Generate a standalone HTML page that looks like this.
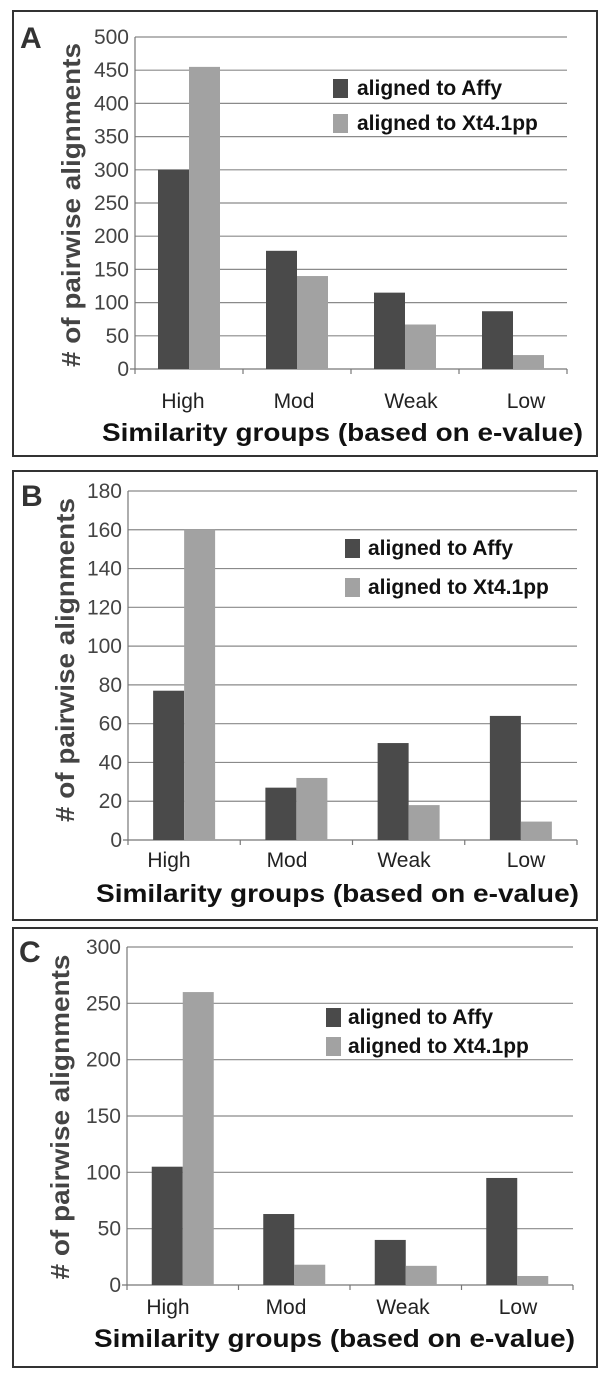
<!DOCTYPE html>
<html><head><meta charset="utf-8"><style>
html,body{margin:0;padding:0;background:#fff;}
svg{display:block;font-family:"Liberation Sans",Arial,sans-serif;}
</style></head><body>
<svg id="fig" width="600" height="1385" viewBox="0 0 600 1385" xmlns="http://www.w3.org/2000/svg"></svg>
<script>
const categories = ["High","Mod","Weak","Low"];
const seriesNames = ["aligned to Affy","aligned to Xt4.1pp"];
const affyA = [300,178,115,87];
const xtA = [455,140,67,21];
const ticksA = [0,50,100,150,200,250,300,350,400,450,500];
const affyB = [77,27,50,64];
const xtB = [160,32,18,9.5];
const ticksB = [0,20,40,60,80,100,120,140,160,180];
const affyC = [105,63,40,95];
const xtC = [260,18,17,8];
const ticksC = [0,50,100,150,200,250,300];

const NS="http://www.w3.org/2000/svg";
const svg=document.getElementById('fig');
function mk(tag,attrs,parent,text){const e=document.createElementNS(NS,tag);for(const k in attrs)e.setAttribute(k,attrs[k]);if(text!==undefined)e.textContent=text;(parent||svg).appendChild(e);return e;}

const panels=[
 {id:'a',label:'A',box:[13,11,584,445],lab:[20,48],x0:135,x1:567,y0:369,y1:37,max:500,ticks:ticksA,s1:affyA,s2:xtA,
  cat:[183,294,411,526],catY:408,xt:[102,583,441],yt:[71,205,324],leg:[333,79,114,357]},
 {id:'b',label:'B',box:[13,471,584,449],lab:[21,506],x0:128,x1:577,y0:840,y1:491,max:180,ticks:ticksB,s1:affyB,s2:xtB,
  cat:[169,287,404,526],catY:867,xt:[96,579,902],yt:[65,660,324],leg:[345,539,578,368]},
 {id:'c',label:'C',box:[13,928,584,439],lab:[19,962],x0:127,x1:573,y0:1285,y1:947,max:300,ticks:ticksC,s1:affyC,s2:xtC,
  cat:[168,286,403,518],catY:1314,xt:[94,575,1347],yt:[60,1117,325],leg:[326,1008,1037,348]}
];

panels.forEach(p=>{
  const g=mk('g',{});
  
  
  const box=mk('rect',{x:p.box[0],y:p.box[1],width:p.box[2],height:p.box[3],fill:'#fff',stroke:'#333','stroke-width':2},g);
  
  
  const L=mk('text',{x:p.lab[0],y:p.lab[1],'font-size':30,'font-weight':'bold',fill:'#333'},g,p.label);
  
  
  const yS=v=>p.y0-(v/p.max)*(p.y0-p.y1);
  const step=(p.x1-p.x0)/categories.length;
  const xS=i=>p.x0+(i+0.5)*step;
  p.ticks.forEach(t=>{
    const y=yS(t);
    if(t>0){const gl=mk('line',{x1:p.x0,x2:p.x1,y1:y,y2:y,stroke:'#8a8a8a','stroke-width':1.2},g);
      
      }
    const tl=mk('text',{x:p.x0-6,y:y+7,'font-size':21,'text-anchor':'end',fill:'#444'},g,String(t));
    
    
  });
  const ya=mk('line',{x1:p.x0,x2:p.x0,y1:p.y1,y2:p.y0,stroke:'#777','stroke-width':1.2},g);
  
  
  const xa=mk('line',{x1:p.x0-5,x2:p.x1,y1:p.y0,y2:p.y0,stroke:'#777','stroke-width':1.2},g);
  
  
  for(let i=0;i<=categories.length;i++){
    const x=p.x0+i*step;
    const tk=mk('line',{x1:x,x2:x,y1:p.y0,y2:p.y0+5,stroke:'#777','stroke-width':1.2},g);
    
    
  }
  const bw=31;
  categories.forEach((c,i)=>{
    const cx=xS(i);
    const b1=mk('rect',{x:cx-bw,y:yS(p.s1[i]),width:bw,height:p.y0-yS(p.s1[i]),fill:'#4a4a4a'},g);
    
    
    const b2=mk('rect',{x:cx,y:yS(p.s2[i]),width:bw,height:p.y0-yS(p.s2[i]),fill:'#a2a2a2'},g);
    
    
    const cl=mk('text',{x:p.cat[i],y:p.catY,'font-size':21,'text-anchor':'middle',fill:'#222'},g,c);
    
    
  });
  const xt=mk('text',{x:p.xt[0],y:p.xt[2],'font-size':25,'font-weight':'bold',fill:'#111',textLength:p.xt[1]-p.xt[0],lengthAdjust:'spacingAndGlyphs'},g,'Similarity groups (based on e-value)');
  
  
  const yt=mk('text',{x:0,y:0,'font-size':26,'font-weight':'bold',fill:'#444','text-anchor':'middle',textLength:p.yt[2],lengthAdjust:'spacingAndGlyphs',transform:`translate(${p.yt[0]+9},${p.yt[1]}) rotate(-90)`},g,'# of pairwise alignments');
  
  
  const cols=['#4a4a4a','#a2a2a2'];
  const ys=[p.leg[1],p.leg[2]];
  seriesNames.forEach((n,k)=>{
    const sq=mk('rect',{x:p.leg[0],y:ys[k],width:15,height:19,fill:cols[k]},g);
    
    
    const lt=mk('text',{x:p.leg[3],y:ys[k]+16,'font-size':21,'font-weight':'bold',fill:'#111'},g,n);
    
    
  });
});
</script>
</body></html>
